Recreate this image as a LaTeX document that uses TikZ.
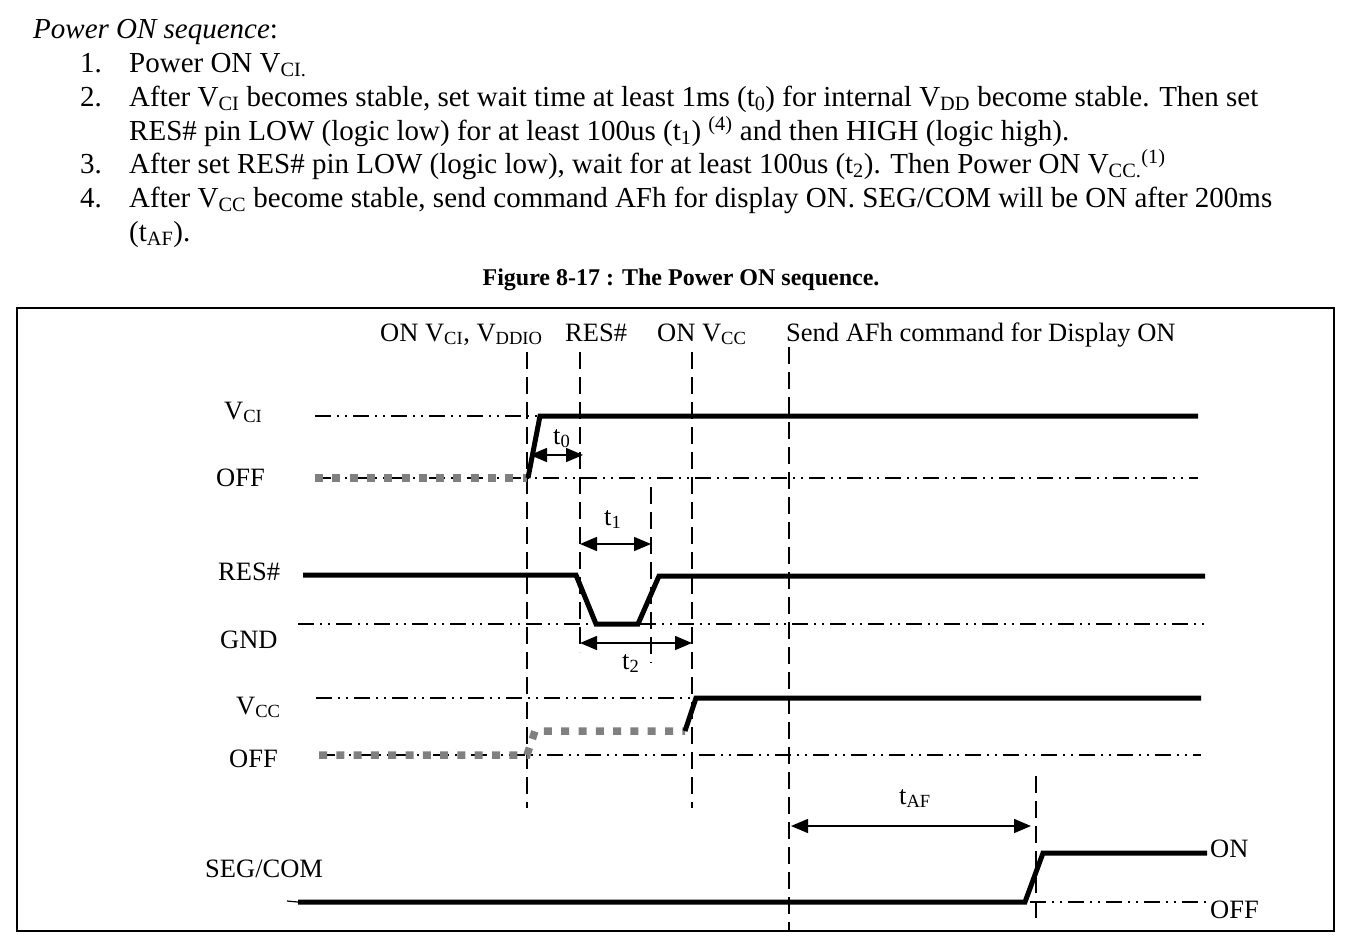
\documentclass[tikz,border=0pt]{standalone}
\usepackage{fontspec}
\setmainfont{Liberation Serif}
\usetikzlibrary{arrows.meta}
\definecolor{sgray}{RGB}{128,128,128}
\newcommand{\sbs}[1]{\textsubscript{#1}}
\newcommand{\sps}[1]{\textsuperscript{#1}}
\begin{document}
\begin{tikzpicture}[x=1pt,y=-1pt,
  txt/.style={anchor=base west, inner sep=0pt, font=\fontsize{29}{34}\selectfont},
  captxt/.style={anchor=base, inner sep=0pt, font=\fontsize{24}{28}\selectfont\bfseries},
  lbl/.style={anchor=base west, inner sep=0pt, font=\fontsize{26.5}{30}\selectfont},
  sig/.style={line width=5pt},
  lvl/.style={line width=1.2pt, dash pattern=on 16pt off 6pt on 2pt off 6pt on 2pt off 6pt},
  vgrid/.style={line width=1.5pt, dash pattern=on 17pt off 8pt},
  offsig/.style={line width=7.5pt, draw=sgray, dash pattern=on 8pt off 9.3pt},
  dim/.style={line width=1.6pt, {Triangle[length=17pt,width=14pt]}-{Triangle[length=17pt,width=14pt]}},
]
\fill[white] (0,0) rectangle (1354,948);
\useasboundingbox (0,0) rectangle (1354,948);

% ---- header text ----
\node[txt] (h0) at (33,38) {\textit{Power ON sequence}:};
\node[txt] (n1) at (80,72) {1.};
\node[txt] (l1) at (129,72) {Power ON V\sbs{CI.}};
\node[txt] (n2) at (80,106) {2.};
\node[txt] (l2) at (129,106) {After V\sbs{CI} becomes stable, set wait time at least 1ms (t\sbs{0}) for internal V\sbs{DD} become stable. Then set};
\node[txt] (l2b) at (129,140) {RES\# pin LOW (logic low) for at least 100us (t\sbs{1}) \sps{(4)} and then HIGH (logic high).};
\node[txt] (n3) at (80,173) {3.};
\node[txt] (l3) at (129,173) {After set RES\# pin LOW (logic low), wait for at least 100us (t\sbs{2}). Then Power ON V\sbs{CC.}\sps{(1)}};
\node[txt] (n4) at (80,207) {4.};
\node[txt] (l4) at (129,207) {After V\sbs{CC} become stable, send command AFh for display ON. SEG/COM will be ON after 200ms};
\node[txt] (l4b) at (129,241) {(t\sbs{AF}).};

\node[captxt] (caption) at (681,285) {Figure 8-17 : The Power ON sequence.};

% ---- frame ----
\draw[line width=2.5pt] (17,308) rectangle (1334,931);

% ---- top labels ----
\node[lbl] (tvci) at (380,341) {ON V\sbs{CI}, V\sbs{DDIO}};
\node[lbl] (tres) at (565,341) {RES\#};
\node[lbl] (tvcc) at (657,341) {ON V\sbs{CC}};
\node[lbl] (tafh) at (786,341) {Send AFh command for Display ON};

% ---- left labels ----
\node[lbl] (lvci) at (224,419) {V\sbs{CI}};
\node[lbl] (loff1) at (216,486) {OFF};
\node[lbl] (lres) at (218,580) {RES\#};
\node[lbl] (lgnd) at (220,648) {GND};
\node[lbl] (lvcc) at (236,714) {V\sbs{CC}};
\node[lbl] (loff2) at (229,767) {OFF};
\node[lbl] (lseg) at (205,877) {SEG/COM};
\node[lbl] (ron) at (1210,857) {ON};
\node[lbl] (roff) at (1210,918) {OFF};

% ---- vertical dashed guides ----
\draw[vgrid] (527,352) -- (527,808);
\draw[vgrid] (580,352) -- (580,652);
\draw[vgrid] (651,487) -- (651,663);
\draw[vgrid] (692,352) -- (692,808);
\draw[vgrid] (789,347) -- (789,931);
\draw[vgrid] (1036,776) -- (1036,925);

% ---- reference levels ----
\draw[lvl] (315,416) -- (540,416);
\draw[lvl] (315,478) -- (1198,478);
\draw[lvl] (298,624) -- (1205,624);
\draw[lvl] (316,698) -- (692,698);
\draw[lvl] (319,755) -- (1201,755);
\draw[lvl] (1030,902) -- (1207,902);

% ---- off (gray) segments ----
\draw[offsig] (315,478) -- (527,478);
\draw[offsig] (319,755) -- (527,755) -- (535,731) -- (685,731);

% ---- signals ----
\coordinate (vciA) at (528,478);
\coordinate (vciB) at (540,416);
\coordinate (vciC) at (1198,416);
\draw[sig] (vciA) -- (vciB) -- (vciC);

\coordinate (resA) at (303,575);
\coordinate (resB) at (576,575);
\coordinate (resC) at (596,624);
\coordinate (resD) at (638,624);
\coordinate (resE) at (659,576);
\coordinate (resF) at (1205,576);
\draw[sig] (resA) -- (resB) -- (resC) -- (resD) -- (resE) -- (resF);

\coordinate (vccA) at (685,731);
\coordinate (vccB) at (696,698);
\coordinate (vccC) at (1201,698);
\draw[sig] (vccA) -- (vccB) -- (vccC);

\coordinate (segA) at (298,902);
\coordinate (segB) at (1025,902);
\coordinate (segC) at (1043,853);
\coordinate (segD) at (1207,853);
\coordinate (seg0) at (287,901);
\draw[line width=1.2pt] (seg0) -- (segA);
\draw[sig] (segA) -- (segB) -- (segC) -- (segD);

% ---- timing arrows ----
\coordinate (t0a) at (530,455);
\coordinate (t0b) at (583,455);
\draw[dim] (t0a) -- (t0b);
\node[lbl] (t0) at (553,444) {t\sbs{0}};

\coordinate (t1a) at (580,544);
\coordinate (t1b) at (651,544);
\draw[dim] (t1a) -- (t1b);
\node[lbl] (t1) at (604,525) {t\sbs{1}};

\coordinate (t2a) at (580,643);
\coordinate (t2b) at (692,643);
\draw[dim] (t2a) -- (t2b);
\node[lbl] (t2) at (622,669) {t\sbs{2}};

\coordinate (tafa) at (791,826);
\coordinate (tafb) at (1031,826);
\draw[dim] (tafa) -- (tafb);
\node[lbl] (taf) at (899,804) {t\sbs{AF}};
\end{tikzpicture}
\end{document}
